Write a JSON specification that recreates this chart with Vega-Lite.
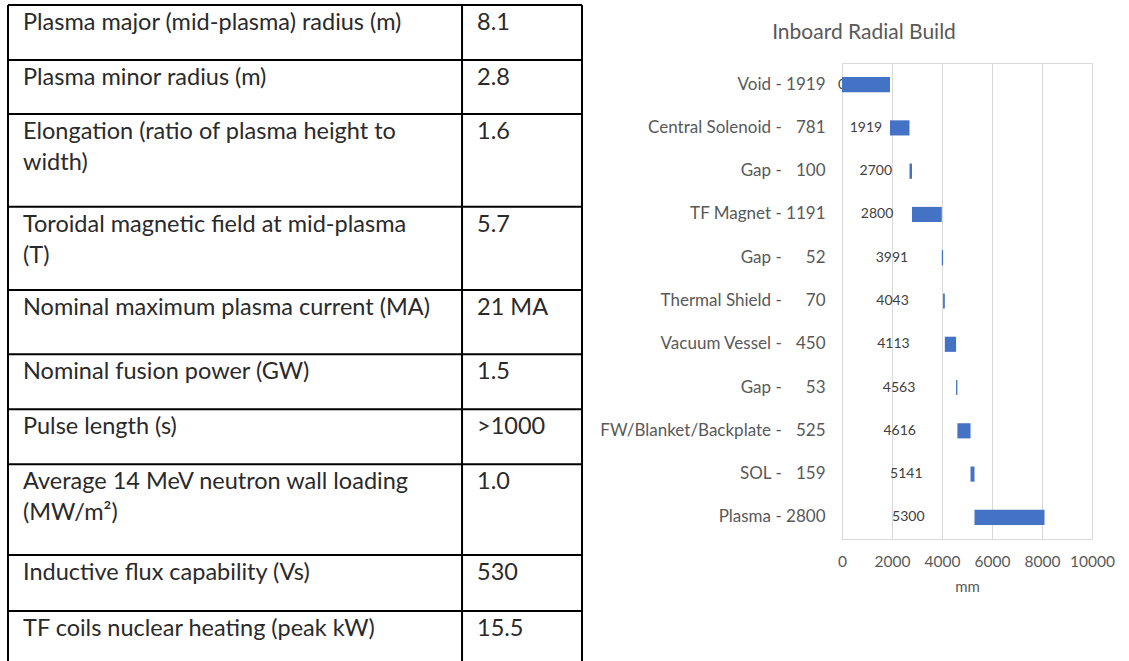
{
  "$schema": "https://vega.github.io/schema/vega-lite/v6.json",
  "background": "white",
  "padding": {"left": 7, "top": 4, "right": 0, "bottom": 0},
  "spacing": 16,
  "config": {"font": "Lato"},
  "datasets": {
    "params": [
      {"param": "Plasma major (mid-plasma) radius (m)", "value": "8.1", "top": 0},
      {"param": "Plasma minor radius (m)", "value": "2.8", "top": 1},
      {"param": "Elongation (ratio of plasma height to\nwidth)", "value": "1.6", "top": 1.98},
      {"param": "Toroidal magnetic field at mid-plasma\n(T)", "value": "5.7", "top": 3.67},
      {"param": "Nominal maximum plasma current (MA)", "value": "21 MA", "top": 5.18},
      {"param": "Nominal fusion power (GW)", "value": "1.5", "top": 6.35},
      {"param": "Pulse length (s)", "value": ">1000", "top": 7.35},
      {"param": "Average 14 MeV neutron wall loading\n(MW/m²)", "value": "1.0", "top": 8.35},
      {"param": "Inductive flux capability (Vs)", "value": "530", "top": 10},
      {"param": "TF coils nuclear heating (peak kW)", "value": "15.5", "top": 11.02}
    ],
    "columns": [{"edge": 0}, {"edge": 79.1}, {"edge": 100}],
    "build": [
      {"layer": "Void - 1919", "start": 0, "end": 1919},
      {"layer": "Central Solenoid - \u2007781", "start": 1919, "end": 2700},
      {"layer": "Gap - \u2007100", "start": 2700, "end": 2800},
      {"layer": "TF Magnet - 1191", "start": 2800, "end": 3991},
      {"layer": "Gap - \u2007\u200752", "start": 3991, "end": 4043},
      {"layer": "Thermal Shield - \u2007\u200770", "start": 4043, "end": 4113},
      {"layer": "Vacuum Vessel - \u2007450", "start": 4113, "end": 4563},
      {"layer": "Gap - \u2007\u200753", "start": 4563, "end": 4616},
      {"layer": "FW/Blanket/Backplate - \u2007525", "start": 4616, "end": 5141},
      {"layer": "SOL - \u2007159", "start": 5141, "end": 5300},
      {"layer": "Plasma - 2800", "start": 5300, "end": 8100}
    ]
  },
  "hconcat": [
    {
      "width": 574,
      "height": 599,
      "view": {"stroke": null},
      "layer": [
        {
          "data": {"name": "params"},
          "mark": {"type": "rule", "stroke": "black", "strokeWidth": 2},
          "encoding": {
            "y": {"field": "top", "type": "quantitative", "scale": {"domain": [1.0545, 11.945], "nice": false, "zero": false, "reverse": true}, "axis": null},
            "x": {"datum": 0, "type": "quantitative", "scale": {"domain": [0, 100], "nice": false}, "axis": null},
            "x2": {"datum": 100}
          }
        },
        {
          "data": {"name": "columns"},
          "mark": {"type": "rule", "stroke": "black", "strokeWidth": 2},
          "encoding": {
            "x": {"field": "edge", "type": "quantitative", "axis": null},
            "y": {"datum": 0, "type": "quantitative"},
            "y2": {"datum": 12}
          }
        },
        {
          "data": {"name": "params"},
          "mark": {"type": "text", "align": "left", "baseline": "top", "dx": 15, "dy": 6, "fontSize": 23.5, "lineHeight": 31, "lineBreak": "\n", "color": "#2a2a2a"},
          "encoding": {
            "x": {"datum": 0, "type": "quantitative"},
            "y": {"field": "top", "type": "quantitative"},
            "text": {"field": "param", "type": "nominal"}
          }
        },
        {
          "data": {"name": "params"},
          "mark": {"type": "text", "align": "left", "baseline": "top", "dx": 15, "dy": 6, "fontSize": 23.5, "color": "#2a2a2a"},
          "encoding": {
            "x": {"datum": 79.1, "type": "quantitative"},
            "y": {"field": "top", "type": "quantitative"},
            "text": {"field": "value", "type": "nominal"}
          }
        }
      ]
    },
    {
      "width": 250,
      "height": 476,
      "title": {"text": "Inboard Radial Build", "fontSize": 21, "fontWeight": "normal", "color": "#595959", "anchor": "middle", "frame": "group", "dx": -103, "offset": 20},
      "view": {"stroke": "#d9d9d9"},
      "data": {"name": "build"},
      "transform": [{"calculate": "datum.start / 2", "as": "mid"}],
      "encoding": {
        "y": {
          "field": "layer", "type": "nominal", "sort": null,
          "scale": {"paddingInner": 0.65, "paddingOuter": 0.325},
          "axis": {"title": null, "ticks": false, "domain": false, "labelFontSize": 17, "labelColor": "#595959", "labelPadding": 17, "labelLimit": 400}
        }
      },
      "layer": [
        {
          "mark": {"type": "text", "fontSize": 14, "color": "#404040"},
          "encoding": {
            "x": {"field": "mid", "type": "quantitative", "scale": {"domain": [0, 10000], "nice": false}, "title": "mm"},
            "text": {"field": "start", "type": "quantitative", "format": "d"}
          }
        },
        {
          "mark": {"type": "bar", "color": "#4472C4"},
          "encoding": {
            "x": {
              "field": "start", "type": "quantitative",
              "scale": {"domain": [0, 10000], "nice": false},
              "title": "mm",
              "axis": {"values": [0, 2000, 4000, 6000, 8000, 10000], "format": "d", "labelOverlap": false, "labelFlush": false, "grid": true, "gridColor": "#d9d9d9", "domain": false, "ticks": false, "labelFontSize": 15.5, "labelColor": "#595959", "labelPadding": 15, "titleFontSize": 15, "titleFontWeight": "normal", "titleColor": "#595959", "titlePadding": 10}
            },
            "x2": {"field": "end"}
          }
        }
      ]
    }
  ]
}
